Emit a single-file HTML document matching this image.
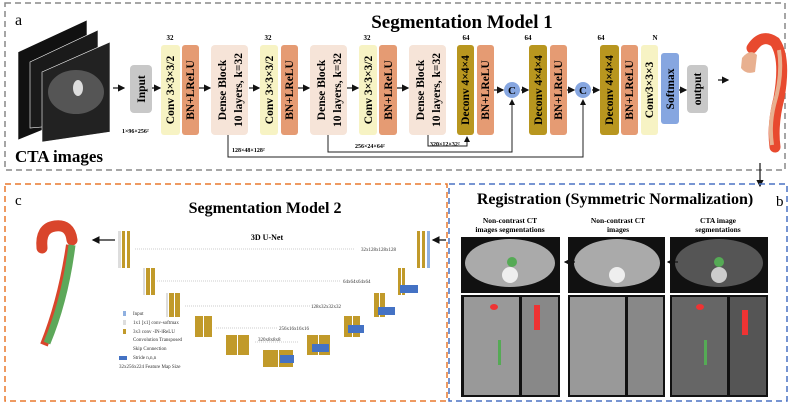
<!DOCTYPE html>
<html><head><meta charset="utf-8"><style>
html,body{margin:0;padding:0;background:#fff;}
svg{display:block;font-family:"Liberation Serif",serif;}
</style></head><body>
<svg width="790" height="407" viewBox="0 0 790 407" xmlns="http://www.w3.org/2000/svg">
<defs>
<marker id="ah" markerWidth="6" markerHeight="6" refX="5" refY="3" orient="auto"><path d="M0,0 L6,3 L0,6 z" fill="#111"/></marker>
</defs>
<rect x="5" y="3" width="780" height="167" fill="none" stroke="#888" stroke-width="1.5" stroke-dasharray="6,4"/>
<text x="15" y="25" font-size="16">a</text>
<text x="462" y="28" font-size="19" font-weight="bold" text-anchor="middle">Segmentation Model 1</text>
<g stroke="#fff" stroke-width="0.6">
<polygon points="18,52 87,20 87,112 18,140" fill="#111"/>
<polygon points="30,62 98,30 98,122 30,128" fill="#1a1a1a"/>
<polygon points="42,72 110,42 110,132 42,142" fill="#222"/>
</g>
<ellipse cx="76" cy="92" rx="28" ry="22" fill="#555"/>
<ellipse cx="78" cy="88" rx="5" ry="8" fill="#ddd"/>
<text x="15" y="162" font-size="17" font-weight="bold">CTA images</text>
<g stroke="#111" stroke-width="1.2" marker-end="url(#ah)">
<line x1="113" y1="88" x2="124" y2="88"/>
<line x1="152" y1="88" x2="160" y2="88"/>
<line x1="199" y1="88" x2="210" y2="88"/>
<line x1="249" y1="88" x2="259" y2="88"/>
<line x1="298" y1="88" x2="309" y2="88"/>
<line x1="347" y1="88" x2="358" y2="88"/>
<line x1="397" y1="88" x2="408" y2="88"/>
<line x1="494" y1="90" x2="503" y2="90"/>
<line x1="521" y1="90" x2="528" y2="90"/>
<line x1="567" y1="90" x2="574" y2="90"/>
<line x1="592" y1="90" x2="599" y2="90"/>
<line x1="679" y1="90" x2="686" y2="90"/>
<line x1="718" y1="80" x2="728" y2="80"/>
</g>
<g>
<rect x="130" y="65" width="22" height="48" rx="4" fill="#c8c8c8"/>
<rect x="161" y="45" width="19" height="90" rx="3" fill="#f7f3c4"/>
<rect x="182" y="45" width="17" height="90" rx="3" fill="#e59b73"/>
<rect x="211" y="45" width="37" height="90" rx="4" fill="#f6e4d8"/>
<rect x="260" y="45" width="18" height="90" rx="3" fill="#f7f3c4"/>
<rect x="281" y="45" width="17" height="90" rx="3" fill="#e59b73"/>
<rect x="310" y="45" width="37" height="90" rx="4" fill="#f6e4d8"/>
<rect x="359" y="45" width="18" height="90" rx="3" fill="#f7f3c4"/>
<rect x="379" y="45" width="18" height="90" rx="3" fill="#e59b73"/>
<rect x="409" y="45" width="37" height="90" rx="4" fill="#f6e4d8"/>
<rect x="457" y="45" width="17" height="90" rx="3" fill="#b8961f"/>
<rect x="477" y="45" width="17" height="90" rx="3" fill="#e59b73"/>
<rect x="529" y="45" width="18" height="90" rx="3" fill="#b8961f"/>
<rect x="550" y="45" width="17" height="90" rx="3" fill="#e59b73"/>
<rect x="600" y="45" width="19" height="90" rx="3" fill="#b8961f"/>
<rect x="621" y="45" width="17" height="90" rx="3" fill="#e59b73"/>
<rect x="641" y="45" width="17" height="90" rx="3" fill="#f7f3c4"/>
<rect x="661" y="53" width="18" height="71" rx="3" fill="#86a6e0"/>
<rect x="687" y="65" width="21" height="48" rx="4" fill="#c8c8c8"/>
<circle cx="512" cy="90" r="8" fill="#86a6e0"/>
<circle cx="583" cy="90" r="8" fill="#86a6e0"/>
<text x="512" y="94" font-size="11" font-weight="bold" text-anchor="middle">C</text>
<text x="583" y="94" font-size="11" font-weight="bold" text-anchor="middle">C</text>
</g>
<g font-size="11.5" font-weight="bold" text-anchor="middle">
<text transform="translate(145,89) rotate(-90)">Input</text>
<text transform="translate(174,90) rotate(-90)">Conv 3×3×3/2</text>
<text transform="translate(194,90) rotate(-90)">BN+LReLU</text>
<text transform="translate(226,90) rotate(-90)">Dense Block</text>
<text transform="translate(242,90) rotate(-90)">10 layers, k=32</text>
<text transform="translate(273,90) rotate(-90)">Conv 3×3×3/2</text>
<text transform="translate(293,90) rotate(-90)">BN+LReLU</text>
<text transform="translate(325,90) rotate(-90)">Dense Block</text>
<text transform="translate(341,90) rotate(-90)">10 layers, k=32</text>
<text transform="translate(372,90) rotate(-90)">Conv 3×3×3/2</text>
<text transform="translate(392,90) rotate(-90)">BN+LReLU</text>
<text transform="translate(424,90) rotate(-90)">Dense Block</text>
<text transform="translate(440,90) rotate(-90)">10 layers, k=32</text>
<text transform="translate(469,90) rotate(-90)">Deconv 4×4×4</text>
<text transform="translate(489,90) rotate(-90)">BN+LReLU</text>
<text transform="translate(542,90) rotate(-90)">Deconv 4×4×4</text>
<text transform="translate(562,90) rotate(-90)">BN+LReLU</text>
<text transform="translate(613,90) rotate(-90)">Deconv 4×4×4</text>
<text transform="translate(633,90) rotate(-90)">BN+LReLU</text>
<text transform="translate(653,90) rotate(-90)">Conv3×3×3</text>
<text transform="translate(674,89) rotate(-90)">Softmax</text>
<text transform="translate(701,89) rotate(-90)">output</text>
</g>
<g font-size="7" font-weight="bold" text-anchor="middle">
<text x="170" y="40">32</text><text x="268" y="40">32</text><text x="367" y="40">32</text>
<text x="466" y="40">64</text><text x="528" y="40">64</text><text x="601" y="40">64</text><text x="655" y="40">N</text>
</g>
<g font-size="6" font-weight="bold">
<text x="122" y="133">1×96×256²</text>
<text x="232" y="152">128×48×128²</text>
<text x="355" y="148">256×24×64²</text>
<text x="430" y="146">320×12×32²</text>
</g>
<g fill="none" stroke="#222" stroke-width="1">
<path d="M228,135 V157 H583 V100" marker-end="url(#ah)"/>
<path d="M328,135 V152 H512 V100" marker-end="url(#ah)"/>
<path d="M428,135 V146 H467 V137" marker-end="url(#ah)"/>
</g>
<!-- aorta 1 -->
<path d="M752,48 Q762,33 775,42 Q786,58 779,98 Q772,125 775,147" fill="none" stroke="#e84a2f" stroke-width="11" stroke-linecap="round"/>
<path d="M779,50 Q783,75 774,105 Q769,125 772,145" fill="none" stroke="#e8b090" stroke-width="4"/>
<path d="M742,58 Q750,48 757,55 L755,72 Q746,75 741,68 Z" fill="#e8b090"/>
<line x1="760" y1="163" x2="760" y2="186" stroke="#111" stroke-width="1.2" marker-end="url(#ah)"/>
<!-- box c -->
<rect x="5" y="184" width="442" height="217" fill="none" stroke="#e8782e" stroke-width="1.5" stroke-dasharray="6,4"/>
<text x="15" y="205" font-size="15">c</text>
<text x="265" y="213" font-size="16" font-weight="bold" text-anchor="middle">Segmentation Model 2</text>
<text x="267" y="240" font-size="8" font-weight="bold" text-anchor="middle">3D U-Net</text>
<path d="M42,248 Q40,228 55,226 Q70,224 72,240" fill="none" stroke="#d9452b" stroke-width="11" stroke-linecap="round"/>
<path d="M70,245 Q62,300 44,345" fill="none" stroke="#d9452b" stroke-width="8"/>
<path d="M72,245 Q65,300 47,343" fill="none" stroke="#5da85a" stroke-width="7"/>
<g stroke="#111" stroke-width="1.3" marker-end="url(#ah)">
<line x1="115" y1="240" x2="93" y2="240"/>
<line x1="446" y1="240" x2="433" y2="240"/>
</g>
<g fill="#c19a2a">
<rect x="118" y="231" width="3" height="37" fill="#ddd"/><rect x="122" y="231" width="3" height="37"/><rect x="127" y="231" width="3" height="37"/>
<rect x="143" y="268" width="2" height="27" fill="#ddd"/><rect x="146" y="268" width="4" height="27"/><rect x="151" y="268" width="4" height="27"/>
<rect x="166" y="293" width="2" height="24" fill="#ddd"/><rect x="169" y="293" width="5" height="24"/><rect x="175" y="293" width="5" height="24"/>
<rect x="195" y="316" width="8" height="21"/><rect x="204" y="316" width="8" height="21"/>
<rect x="226" y="335" width="11" height="20"/><rect x="238" y="335" width="11" height="20"/>
<rect x="263" y="350" width="15" height="17"/><rect x="279" y="350" width="14" height="17"/>
<rect x="307" y="335" width="11" height="20"/><rect x="319" y="335" width="11" height="20"/>
<rect x="344" y="316" width="8" height="21"/><rect x="353" y="316" width="7" height="21"/>
<rect x="374" y="293" width="5" height="24"/><rect x="380" y="293" width="5" height="24"/>
<rect x="398" y="268" width="3" height="27"/><rect x="402" y="268" width="3" height="27"/>
<rect x="417" y="231" width="3" height="37"/><rect x="422" y="231" width="3" height="37"/><rect x="427" y="231" width="3" height="37" fill="#8fb0e0"/>
</g>
<g fill="#4472c4">
<rect x="280" y="355" width="14" height="8"/><rect x="312" y="344" width="17" height="8"/>
<rect x="348" y="325" width="16" height="8"/><rect x="378" y="307" width="17" height="8"/><rect x="400" y="285" width="18" height="8"/>
<rect x="119" y="356" width="8" height="4"/>
</g>
<g stroke="#999" stroke-width="0.6" stroke-dasharray="1,1">
<line x1="135" y1="249" x2="355" y2="249"/><line x1="157" y1="281" x2="340" y2="281"/>
<line x1="185" y1="306" x2="310" y2="306"/><line x1="216" y1="328" x2="278" y2="328"/><line x1="255" y1="342" x2="298" y2="342"/>
</g>
<g font-size="5" fill="#333">
<text x="361" y="251">32x128x128x128</text><text x="343" y="283">64x64x64x64</text>
<text x="311" y="308">128x32x32x32</text><text x="279" y="330">256x16x16x16</text><text x="258" y="341">320x8x8x8</text>
<text x="133" y="315">Input</text><text x="133" y="324">1x1 [x1] conv-softmax</text>
<text x="133" y="333">3x3 conv -IN-lReLU</text><text x="133" y="341">Convolution Transposed</text>
<text x="133" y="350">Skip Connection</text><text x="133" y="359">Stride n,n,n</text><text x="119" y="368">32x256x224 Feature Map Size</text>
</g>
<rect x="123" y="311" width="3" height="5" fill="#8fb0e0"/><rect x="123" y="320" width="3" height="5" fill="#ddd"/><rect x="123" y="329" width="3" height="5" fill="#c19a2a"/>
<!-- box b -->
<rect x="449" y="184" width="338" height="217" fill="none" stroke="#4a72c4" stroke-width="1.5" stroke-dasharray="6,4"/>
<text x="615" y="204" font-size="16" font-weight="bold" text-anchor="middle">Registration (Symmetric Normalization)</text>
<text x="776" y="206" font-size="15">b</text>
<g font-size="7.5" font-weight="bold" text-anchor="middle">
<text x="510" y="223">Non-contrast CT</text><text x="510" y="232">images segmentations</text>
<text x="618" y="223">Non-contrast CT</text><text x="618" y="232">images</text>
<text x="718" y="223">CTA image</text><text x="718" y="232">segmentations</text>
</g>
<g>
<rect x="461" y="237" width="99" height="160" fill="#111"/>
<rect x="568" y="237" width="97" height="160" fill="#111"/>
<rect x="670" y="237" width="98" height="160" fill="#111"/>
<ellipse cx="510" cy="263" rx="45" ry="24" fill="#aaa"/>
<ellipse cx="617" cy="263" rx="43" ry="24" fill="#aaa"/>
<ellipse cx="719" cy="263" rx="44" ry="24" fill="#555"/>
<circle cx="510" cy="275" r="8" fill="#eee"/><circle cx="617" cy="275" r="8" fill="#eee"/><circle cx="719" cy="275" r="8" fill="#ccc"/>
<rect x="464" y="297" width="55" height="98" fill="#999"/><rect x="522" y="297" width="36" height="98" fill="#888"/>
<rect x="570" y="297" width="55" height="98" fill="#999"/><rect x="628" y="297" width="35" height="98" fill="#888"/>
<rect x="672" y="297" width="55" height="98" fill="#666"/><rect x="730" y="297" width="36" height="98" fill="#555"/>
<rect x="461" y="293" width="307" height="2" fill="#fff"/>
<circle cx="512" cy="262" r="5" fill="#5a5"/><circle cx="719" cy="262" r="5" fill="#5a5"/>
<ellipse cx="494" cy="307" rx="4" ry="3" fill="#e33"/><ellipse cx="700" cy="307" rx="4" ry="3" fill="#e33"/>
<rect x="534" y="305" width="6" height="25" fill="#e33"/><rect x="742" y="310" width="6" height="25" fill="#e33"/>
<rect x="498" y="340" width="3" height="25" fill="#5a5"/><rect x="704" y="340" width="3" height="25" fill="#5a5"/>
</g>
<g stroke="#111" stroke-width="1.2" marker-end="url(#ah)">
<line x1="575" y1="262" x2="565" y2="262"/><line x1="678" y1="262" x2="668" y2="262"/>
</g>
</svg>
</body></html>
